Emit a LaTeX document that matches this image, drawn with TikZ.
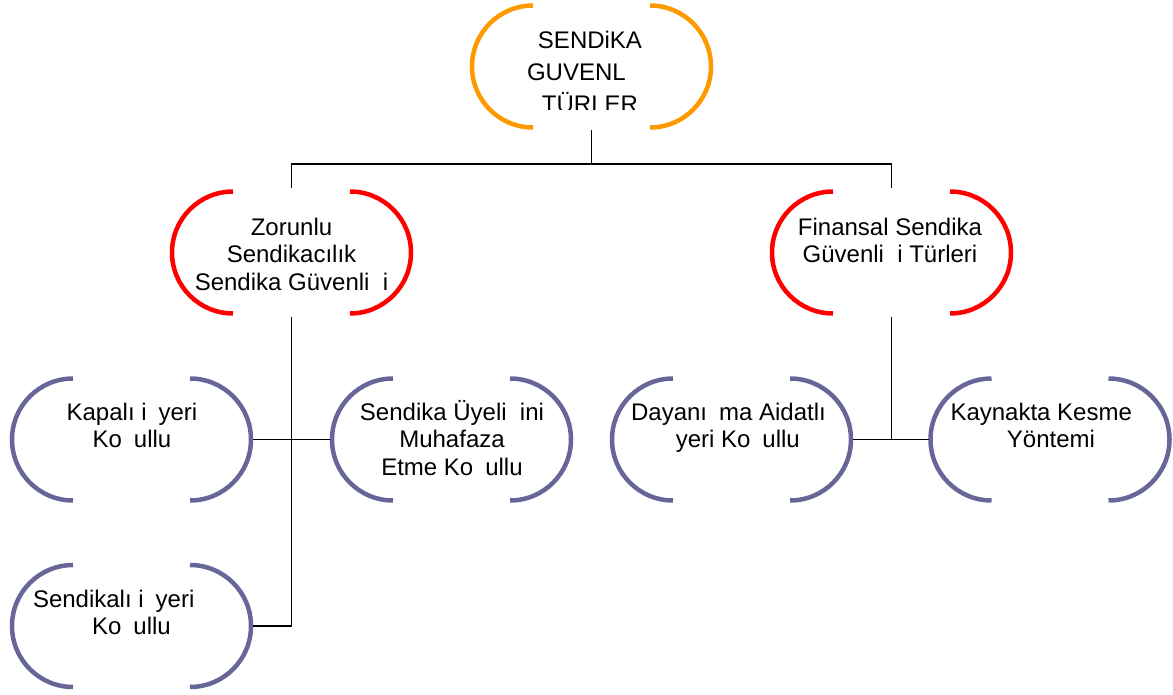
\documentclass[tikz,border=0pt]{standalone}
\usepackage{fontspec}
\setmainfont{Liberation Sans}
\definecolor{sgorange}{RGB}{255,153,0}
\definecolor{sgred}{RGB}{255,0,0}
\definecolor{sgpurple}{RGB}{102,102,153}
\newcommand{\bracketpair}[2]{%
  \draw[#2, line width=4.5pt] ([xshift=-58.5pt,yshift=-3pt]#1.north) arc[start angle=90, end angle=270, radius=61pt];
  \draw[#2, line width=4.5pt] ([xshift=58.5pt,yshift=-3pt]#1.north) arc[start angle=90, end angle=-90, radius=61pt];}
\tikzset{
  sgbox/.style={rectangle, draw=none, minimum width=243pt, minimum height=128pt, inner sep=0pt, outer sep=0pt},
  sgtext/.style={anchor=north, align=center, inner sep=0pt, font=\fontsize{24pt}{27.5pt}\selectfont},
  conn/.style={line width=1.8pt, black}
}
\begin{document}
\begin{tikzpicture}[x=1pt,y=1pt]
\useasboundingbox (0,0) rectangle (1173,-695);
% boxes
\node[sgbox] (top) at (591.5,-66.5) {};
\node[sgbox] (zor) at (291.5,-252.5) {};
\node[sgbox] (fin) at (891.5,-252.5) {};
\node[sgbox] (kap) at (131.5,-439.5) {};
\node[sgbox] (uye) at (451.5,-439.5) {};
\node[sgbox] (day) at (731.5,-439.5) {};
\node[sgbox] (kay) at (1050,-439.5) {};
\node[sgbox] (sen) at (131.5,-626) {};
% brackets
\bracketpair{top}{sgorange}
\bracketpair{zor}{sgred}
\bracketpair{fin}{sgred}
\bracketpair{kap}{sgpurple}
\bracketpair{uye}{sgpurple}
\bracketpair{day}{sgpurple}
\bracketpair{kay}{sgpurple}
\bracketpair{sen}{sgpurple}
% texts
\begin{scope}
\clip (440,0) rectangle (740,-110);
\node[sgtext, font=\fontsize{24pt}{32pt}\selectfont] (top-t) at (590,-23.3) {\rule{0pt}{25pt}SENDiKA\\\makebox[126pt][l]{GUVENL}\\TÜRLER};
\end{scope}
\node[sgtext] (zor-t) at (291.5,-210) {\rule{0pt}{25pt}Zorunlu\\Sendikacılık\\Sendika Güvenli\hspace*{13.3pt}i};
\node[sgtext] (fin-t) at (890,-210) {\rule{0pt}{25pt}Finansal Sendika\\Güvenli\hspace*{13.3pt}i Türleri};
\node[sgtext] (kap-t) at (132,-395) {\rule{0pt}{25pt}Kapalı i\hspace*{12pt}yeri\\Ko\hspace*{12pt}ullu};
\node[sgtext] (uye-t) at (452,-395) {\rule{0pt}{25pt}Sendika Üyeli\hspace*{13.3pt}ini\\Muhafaza\\Etme Ko\hspace*{12pt}ullu};
\node[sgtext] (day-t) at (728.5,-395) {\rule{0pt}{25pt}Dayanı\hspace*{12pt}ma Aidatlı\\\hspace*{18.7pt}yeri Ko\hspace*{12pt}ullu};
\node[sgtext] (kay-t) at (1051,-395) {\rule{0pt}{25pt}\makebox[201pt][l]{Kaynakta Kesme}\\Yöntemi};
\node[sgtext] (sen-t) at (131.5,-582) {\rule{0pt}{25pt}\makebox[197pt][l]{Sendikalı i\hspace*{12pt}yeri}\\Ko\hspace*{12pt}ullu};
% connectors
\coordinate (bus) at (591.5,-164);
\draw[conn] (top.south) -- (bus);
\draw[conn] (zor.north) |- (bus) -| (fin.north);
\draw[conn] (zor.south) |- (sen.east);
\draw[conn] (kap.east) -- (uye.west);
\draw[conn] (fin.south) -- (fin.south |- day.east);
\draw[conn] (day.east) -- (kay.west);
\end{tikzpicture}
\end{document}
